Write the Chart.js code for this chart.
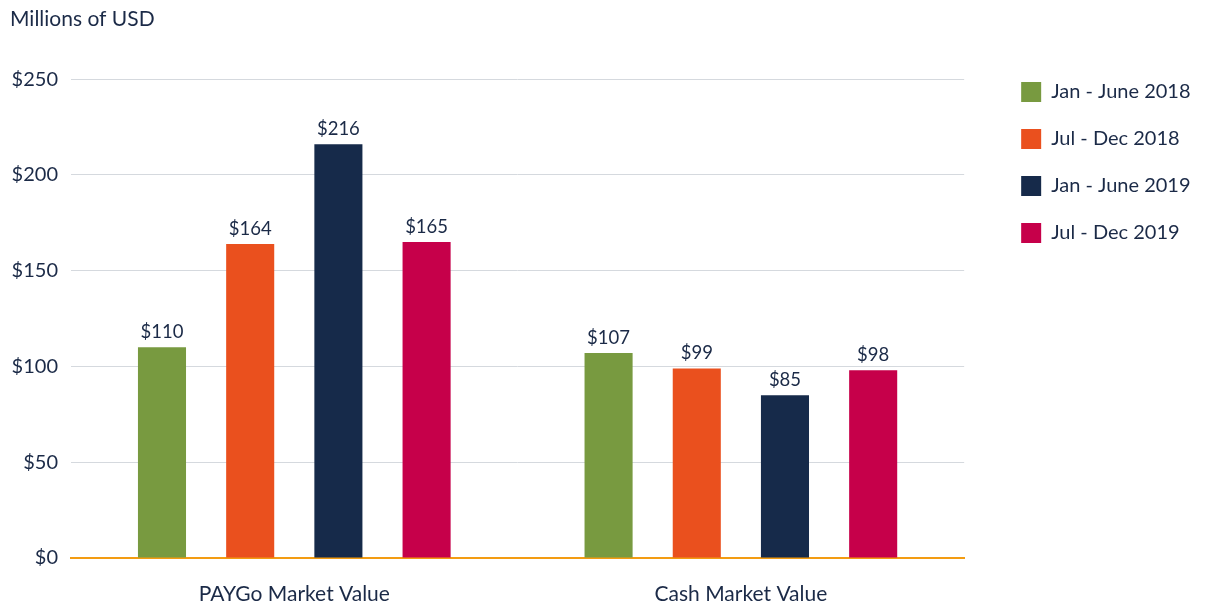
<!DOCTYPE html>
<html lang="en">
<head>
  <meta charset="UTF-8">
  <title>Market Value</title>
  <script src="https://cdn.jsdelivr.net/npm/chart.js"></script>
  <style>
    body {
      margin: 0;
      background: #fff;
    }
    .chart-container {
      position: relative;
      width: 1205px;
      height: 608px;
    }
  </style>
</head>
<body>
  <div class="chart-container">
    <canvas id="valueChart"></canvas>
  </div>

  <script>
    // Chart data
    const categories = ['PAYGo Market Value', 'Cash Market Value'];
    const periods = ['Jan - June 2018', 'Jul - Dec 2018', 'Jan - June 2019', 'Jul - Dec 2019'];
    const janJun2018 = [110, 107];
    const julDec2018 = [164, 99];
    const janJun2019 = [216, 85];
    const julDec2019 = [165, 98];
    const yTicks = [0, 50, 100, 150, 200, 250];

    const colors = ['#789a40', '#ea501e', '#162a4a', '#c6004a'];
    const textColor = '#1b2a47';
    const fontFamily = 'Lato, sans-serif';

    // Draw "$value" above each bar
    const valueLabels = {
      id: 'valueLabels',
      afterDatasetsDraw(chart) {
        const ctx = chart.ctx;
        ctx.save();
        ctx.font = '18.5px ' + fontFamily;
        ctx.fillStyle = textColor;
        ctx.textAlign = 'center';
        ctx.textBaseline = 'bottom';
        chart.data.datasets.forEach((ds, i) => {
          chart.getDatasetMeta(i).data.forEach((bar, j) => {
            ctx.fillText('$' + ds.data[j], bar.x, bar.y - 6);
          });
        });
        ctx.restore();
      }
    };

    const ctx = document.getElementById('valueChart').getContext('2d');
    const valueChart = new Chart(ctx, {
      type: 'bar',
      data: {
        labels: categories,
        datasets: [janJun2018, julDec2018, janJun2019, julDec2019].map((d, i) => ({
          label: periods[i],
          data: d,
          backgroundColor: colors[i],
          categoryPercentage: 0.79,
          barPercentage: 0.545
        }))
      },
      options: {
        responsive: true,
        maintainAspectRatio: false,
        animation: false,
        layout: {
          padding: { left: 10, right: 14, top: 7, bottom: 0 }
        },
        plugins: {
          title: {
            display: true,
            text: 'Millions of USD',
            align: 'start',
            color: textColor,
            font: { family: fontFamily, size: 21, weight: 'normal' },
            padding: { top: 0, bottom: 47 }
          },
          legend: {
            position: 'right',
            align: 'start',
            title: {
              display: true,
              text: ' ',
              font: { size: 10 },
              padding: { top: 0, bottom: 36 }
            },
            labels: {
              boxWidth: 20,
              boxHeight: 20,
              padding: 27,
              color: textColor,
              font: { family: fontFamily, size: 20 }
            }
          },
          tooltip: { enabled: false }
        },
        scales: {
          x: {
            afterFit(scale) { scale.height = 50; },
            grid: { display: false, drawTicks: false },
            border: { display: true, color: '#f39c12', width: 2 },
            ticks: {
              color: textColor,
              padding: 24,
              font: { family: fontFamily, size: 21 }
            }
          },
          y: {
            min: 0,
            max: 250,
            afterFit(scale) { scale.width = 61; },
            afterBuildTicks(scale) {
              scale.ticks = yTicks.map(v => ({ value: v }));
            },
            border: { display: false },
            grid: {
              color: c => c.tick && c.tick.value === 0 ? 'rgba(0,0,0,0)' : '#d5d9de',
              lineWidth: 1,
              drawTicks: false
            },
            ticks: {
              color: textColor,
              padding: 13,
              font: { family: fontFamily, size: 20 },
              callback: v => '$' + v
            }
          },
          // empty axis that only keeps a gap between the plot and the legend
          gap: {
            position: 'right',
            afterFit(scale) { scale.width = 30; },
            ticks: { display: false },
            grid: { display: false },
            border: { display: false }
          }
        }
      },
      plugins: [valueLabels]
    });
  </script>
</body>
</html>
